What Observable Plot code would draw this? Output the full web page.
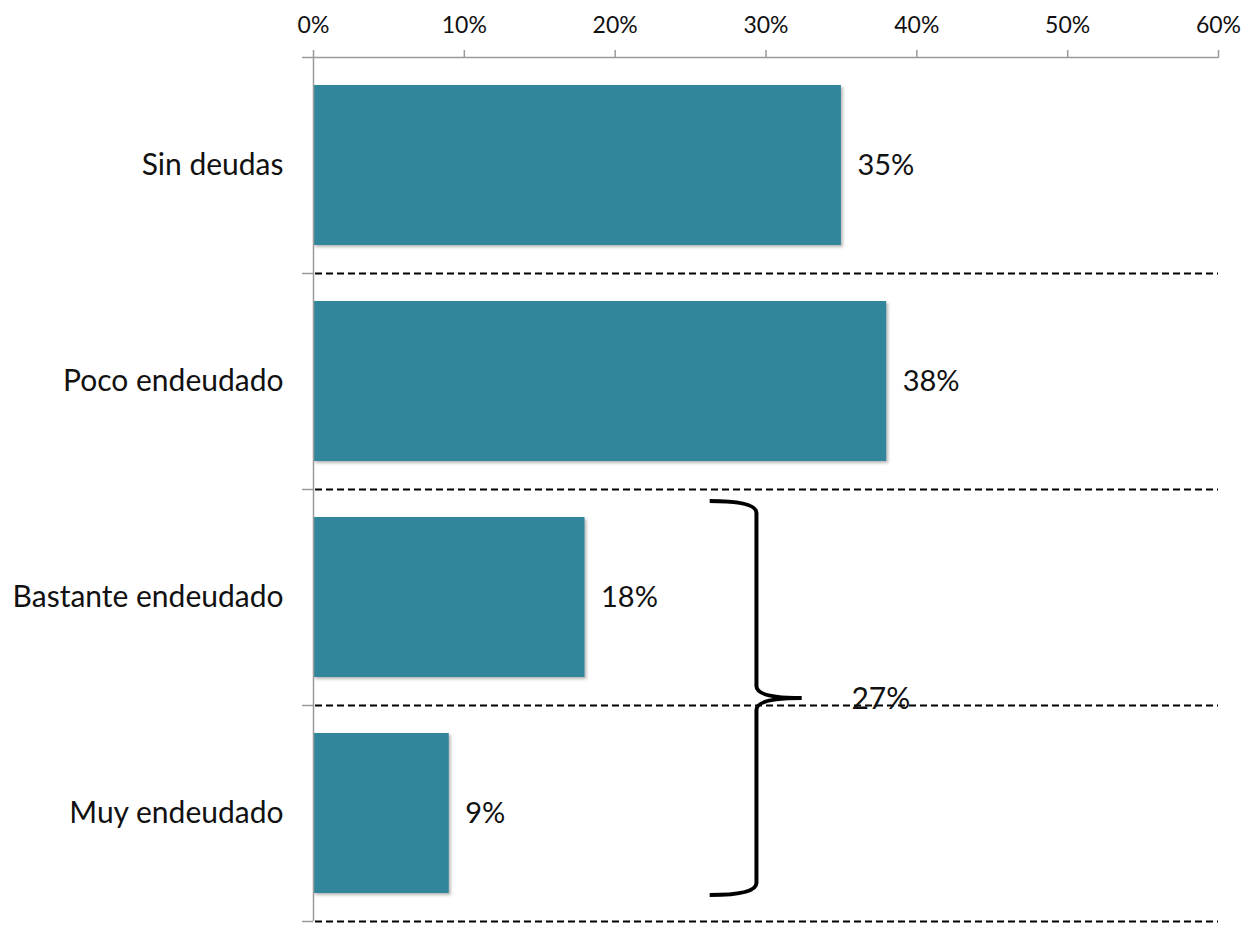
<!DOCTYPE html>
<html>
<head>
<meta charset="utf-8">
<script src="https://cdn.jsdelivr.net/npm/d3@7"></script>
<script src="https://cdn.jsdelivr.net/npm/@observablehq/plot@0.6"></script>
<style>
  html, body { margin: 0; padding: 0; background: #fff; }
  #chart { width: 1244px; height: 929px; }
</style>
</head>
<body>
<div id="chart"></div>
<script>
// ---- Data ----
const categories = ["Sin deudas", "Poco endeudado", "Bastante endeudado", "Muy endeudado"];
const values = [0.35, 0.38, 0.18, 0.09];
const xTicks = [0, 0.1, 0.2, 0.3, 0.4, 0.5, 0.6];
const braceGroup = ["Bastante endeudado", "Muy endeudado"];
const braceLabel = "27%";

// ---- Layout ----
const width = 1244, height = 929;
const marginTop = 57, marginBottom = 8, marginLeft = 313, marginRight = 26;
const step = (height - marginTop - marginBottom) / categories.length;
const frameWidth = width - marginLeft - marginRight;
const barColor = "#32869c";
const axisGrey = "#9a9a9a";
// brace layout in x-data units
const braceLeftX = 0.263, braceStemX = 0.294, braceTipX = 0.324, braceTextX = 0.357;

const data = categories.map((c, i) => ({category: c, value: values[i]}));
const pct = d3.format(".0%");

const braceMark = (index, scales, values, dimensions) => {
  const x = scales.x, y = scales.y;
  const bw = y.bandwidth ? y.bandwidth() : step * 0.74;
  const top = y(braceGroup[0]) - 16;
  const bot = y(braceGroup[braceGroup.length - 1]) + bw + 2;
  const mid = (top + bot) / 2;
  const lx = x(braceLeftX), sx = x(braceStemX), px = x(braceTipX);
  const r = 12;
  const g = document.createElementNS("http://www.w3.org/2000/svg", "g");
  const path = document.createElementNS("http://www.w3.org/2000/svg", "path");
  path.setAttribute("d",
    `M${lx},${top} Q${sx},${top} ${sx},${top + r} L${sx},${mid - r} Q${sx},${mid} ${px},${mid}` +
    ` M${px},${mid} Q${sx},${mid} ${sx},${mid + r} L${sx},${bot - r} Q${sx},${bot} ${lx},${bot}`);
  path.setAttribute("fill", "none");
  path.setAttribute("stroke", "#000");
  path.setAttribute("stroke-width", "4");
  path.setAttribute("stroke-linejoin", "round");
  g.appendChild(path);
  const t = document.createElementNS("http://www.w3.org/2000/svg", "text");
  t.setAttribute("x", x(braceTextX));
  t.setAttribute("y", mid);
  t.setAttribute("dy", "0.35em");
  t.setAttribute("font-size", "30");
  t.setAttribute("text-anchor", "start");
  t.setAttribute("fill", "#111");
  t.textContent = braceLabel;
  g.appendChild(t);
  return g;
};

const chart = Plot.plot({
  width, height, marginTop, marginBottom, marginLeft, marginRight,
  style: {fontFamily: "Lato, 'Open Sans', sans-serif", color: "#111", background: "#fff"},
  x: {domain: [0, 0.6], axis: null},
  y: {domain: categories, paddingInner: 0.26, paddingOuter: 0.13, axis: null, label: null},
  marks: [
    // dashed separators
    Plot.ruleY(categories, {y: d => d, dy: step / 2, stroke: "#000", strokeWidth: 2, strokeDasharray: "7,4", insetLeft: 2}),
    // grey small ticks at band boundaries
    Plot.ruleY(categories, {y: d => d, dy: step / 2, stroke: axisGrey, strokeWidth: 1.5, insetLeft: -11, insetRight: frameWidth}),
    // top axis line
    Plot.ruleY([categories[0]], {y: d => d, dy: -step / 2, stroke: axisGrey, strokeWidth: 1.5, insetLeft: -11}),
    // bar shadows
    Plot.barX(data, {x: "value", y: "category", fill: "#000", fillOpacity: 0.28, dx: 2, dy: 2}),
    Plot.barX(data, {x: "value", y: "category", fill: barColor}),
    // left axis line
    Plot.ruleX([0], {stroke: axisGrey, strokeWidth: 1.5}),
    Plot.axisX(xTicks, {anchor: "top", tickSize: 8, tickPadding: 17, stroke: axisGrey, strokeWidth: 1.5, fill: "#111", fontSize: 23, tickFormat: pct, label: null}),
    Plot.axisY({tickSize: 0, tickPadding: 30, fontSize: 30, fill: "#111", label: null}),
    Plot.text(data, {x: "value", y: "category", text: d => pct(d.value), dx: 16, textAnchor: "start", fontSize: 29, fill: "#111"}),
    braceMark
  ]
});

// soften bar shadows
const ns = "http://www.w3.org/2000/svg";
const defs = document.createElementNS(ns, "defs");
defs.innerHTML = '<filter id="barShadow" x="-10%" y="-10%" width="130%" height="130%"><feGaussianBlur stdDeviation="1.5"/></filter>';
chart.insertBefore(defs, chart.firstChild);
const barGroups = chart.querySelectorAll('g[aria-label="bar"]');
if (barGroups.length) barGroups[0].setAttribute("filter", "url(#barShadow)");

document.getElementById("chart").appendChild(chart);
</script>
</body>
</html>
